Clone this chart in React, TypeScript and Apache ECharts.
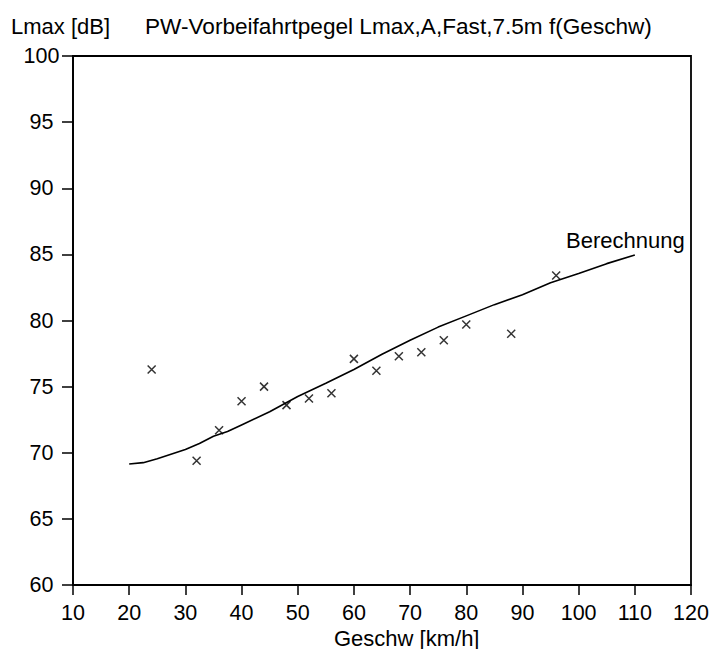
import React, { useEffect, useRef } from "react";
import * as echarts from "echarts";

const yAxisTitle = "Lmax [dB]";
const chartTitle = "PW-Vorbeifahrtpegel Lmax,A,Fast,7.5m f(Geschw)";
const xAxisTitle = "Geschw [km/h]";
const curveName = "Berechnung";

const measuredSpeed = [24, 32, 36, 40, 44, 48, 52, 56, 60, 64, 68, 72, 76, 80, 88, 96];
const measuredLevel = [76.3, 69.4, 71.7, 73.9, 75.0, 73.6, 74.1, 74.5, 77.1, 76.2, 77.3, 77.6, 78.5, 79.7, 79.0, 83.4];

const calcSpeed = [20, 22.5, 25, 30, 32.5, 35, 37.5, 40, 45, 50, 55, 60, 65, 70, 75, 80, 85, 90, 95, 100, 105, 110];
const calcLevel = [69.15, 69.25, 69.55, 70.25, 70.7, 71.25, 71.6, 72.1, 73.1, 74.25, 75.25, 76.3, 77.45, 78.5, 79.5, 80.35, 81.2, 81.95, 82.85, 83.55, 84.3, 84.95];

const FONT = "'Liberation Sans', Arial, sans-serif";

export default function App() {
  const ref = useRef<HTMLDivElement>(null);
  useEffect(() => {
    if (!ref.current) return;
    const chart = echarts.init(ref.current, null, { renderer: "svg" });
    const axisLine = { show: true, lineStyle: { color: "#000", width: 1.8 } };
    chart.setOption({
      animation: false,
      backgroundColor: "#fff",
      textStyle: { fontFamily: FONT },
      grid: {
        left: 73,
        right: 25,
        top: 56,
        bottom: 64,
        show: true,
        borderColor: "#000",
        borderWidth: 1.8,
        backgroundColor: "transparent",
      },
      xAxis: {
        type: "value",
        min: 10,
        max: 120,
        interval: 10,
        axisLine,
        axisTick: { show: true, length: 10, lineStyle: { color: "#000", width: 1.5 } },
        axisLabel: { color: "#000", fontSize: 21.5, fontFamily: FONT, margin: 17 },
        splitLine: { show: false },
      },
      yAxis: {
        type: "value",
        min: 60,
        max: 100,
        interval: 5,
        axisLine,
        axisTick: { show: true, length: 11, lineStyle: { color: "#000", width: 1.5 } },
        axisLabel: { color: "#000", fontSize: 21.5, fontFamily: FONT, margin: 31.5, align: "center" },
        splitLine: { show: false },
      },
      graphic: [
        {
          type: "text",
          left: 11,
          top: 15,
          style: { text: yAxisTitle, fill: "#000", font: `22px ${FONT}` },
        },
        {
          type: "text",
          left: 145,
          top: 15,
          style: { text: chartTitle, fill: "#000", font: `22.6px ${FONT}` },
        },
        {
          type: "text",
          left: 566,
          top: 229,
          style: { text: curveName, fill: "#000", font: `22px ${FONT}` },
        },
        {
          type: "text",
          left: 334,
          top: 627,
          style: { text: xAxisTitle, fill: "#000", font: `22px ${FONT}` },
        },
      ],
      series: [
        {
          name: curveName,
          type: "line",
          data: calcSpeed.map((x, i) => [x, calcLevel[i]]),
          symbol: "none",
          smooth: false,
          lineStyle: { color: "#000", width: 1.6 },
        },
        {
          name: "Messung",
          type: "scatter",
          data: measuredSpeed.map((x, i) => [x, measuredLevel[i]]),
          symbol: "path://M0,0L10,10M10,0L0,10",
          symbolSize: 8,
          itemStyle: { color: "rgba(0,0,0,0)", borderColor: "#000", borderWidth: 1.5 },
        },
      ],
    });
    return () => chart.dispose();
  }, []);
  return (
    <div
      ref={ref}
      style={{ position: "absolute", left: 0, top: 0, width: 716, height: 649 }}
    />
  );
}
